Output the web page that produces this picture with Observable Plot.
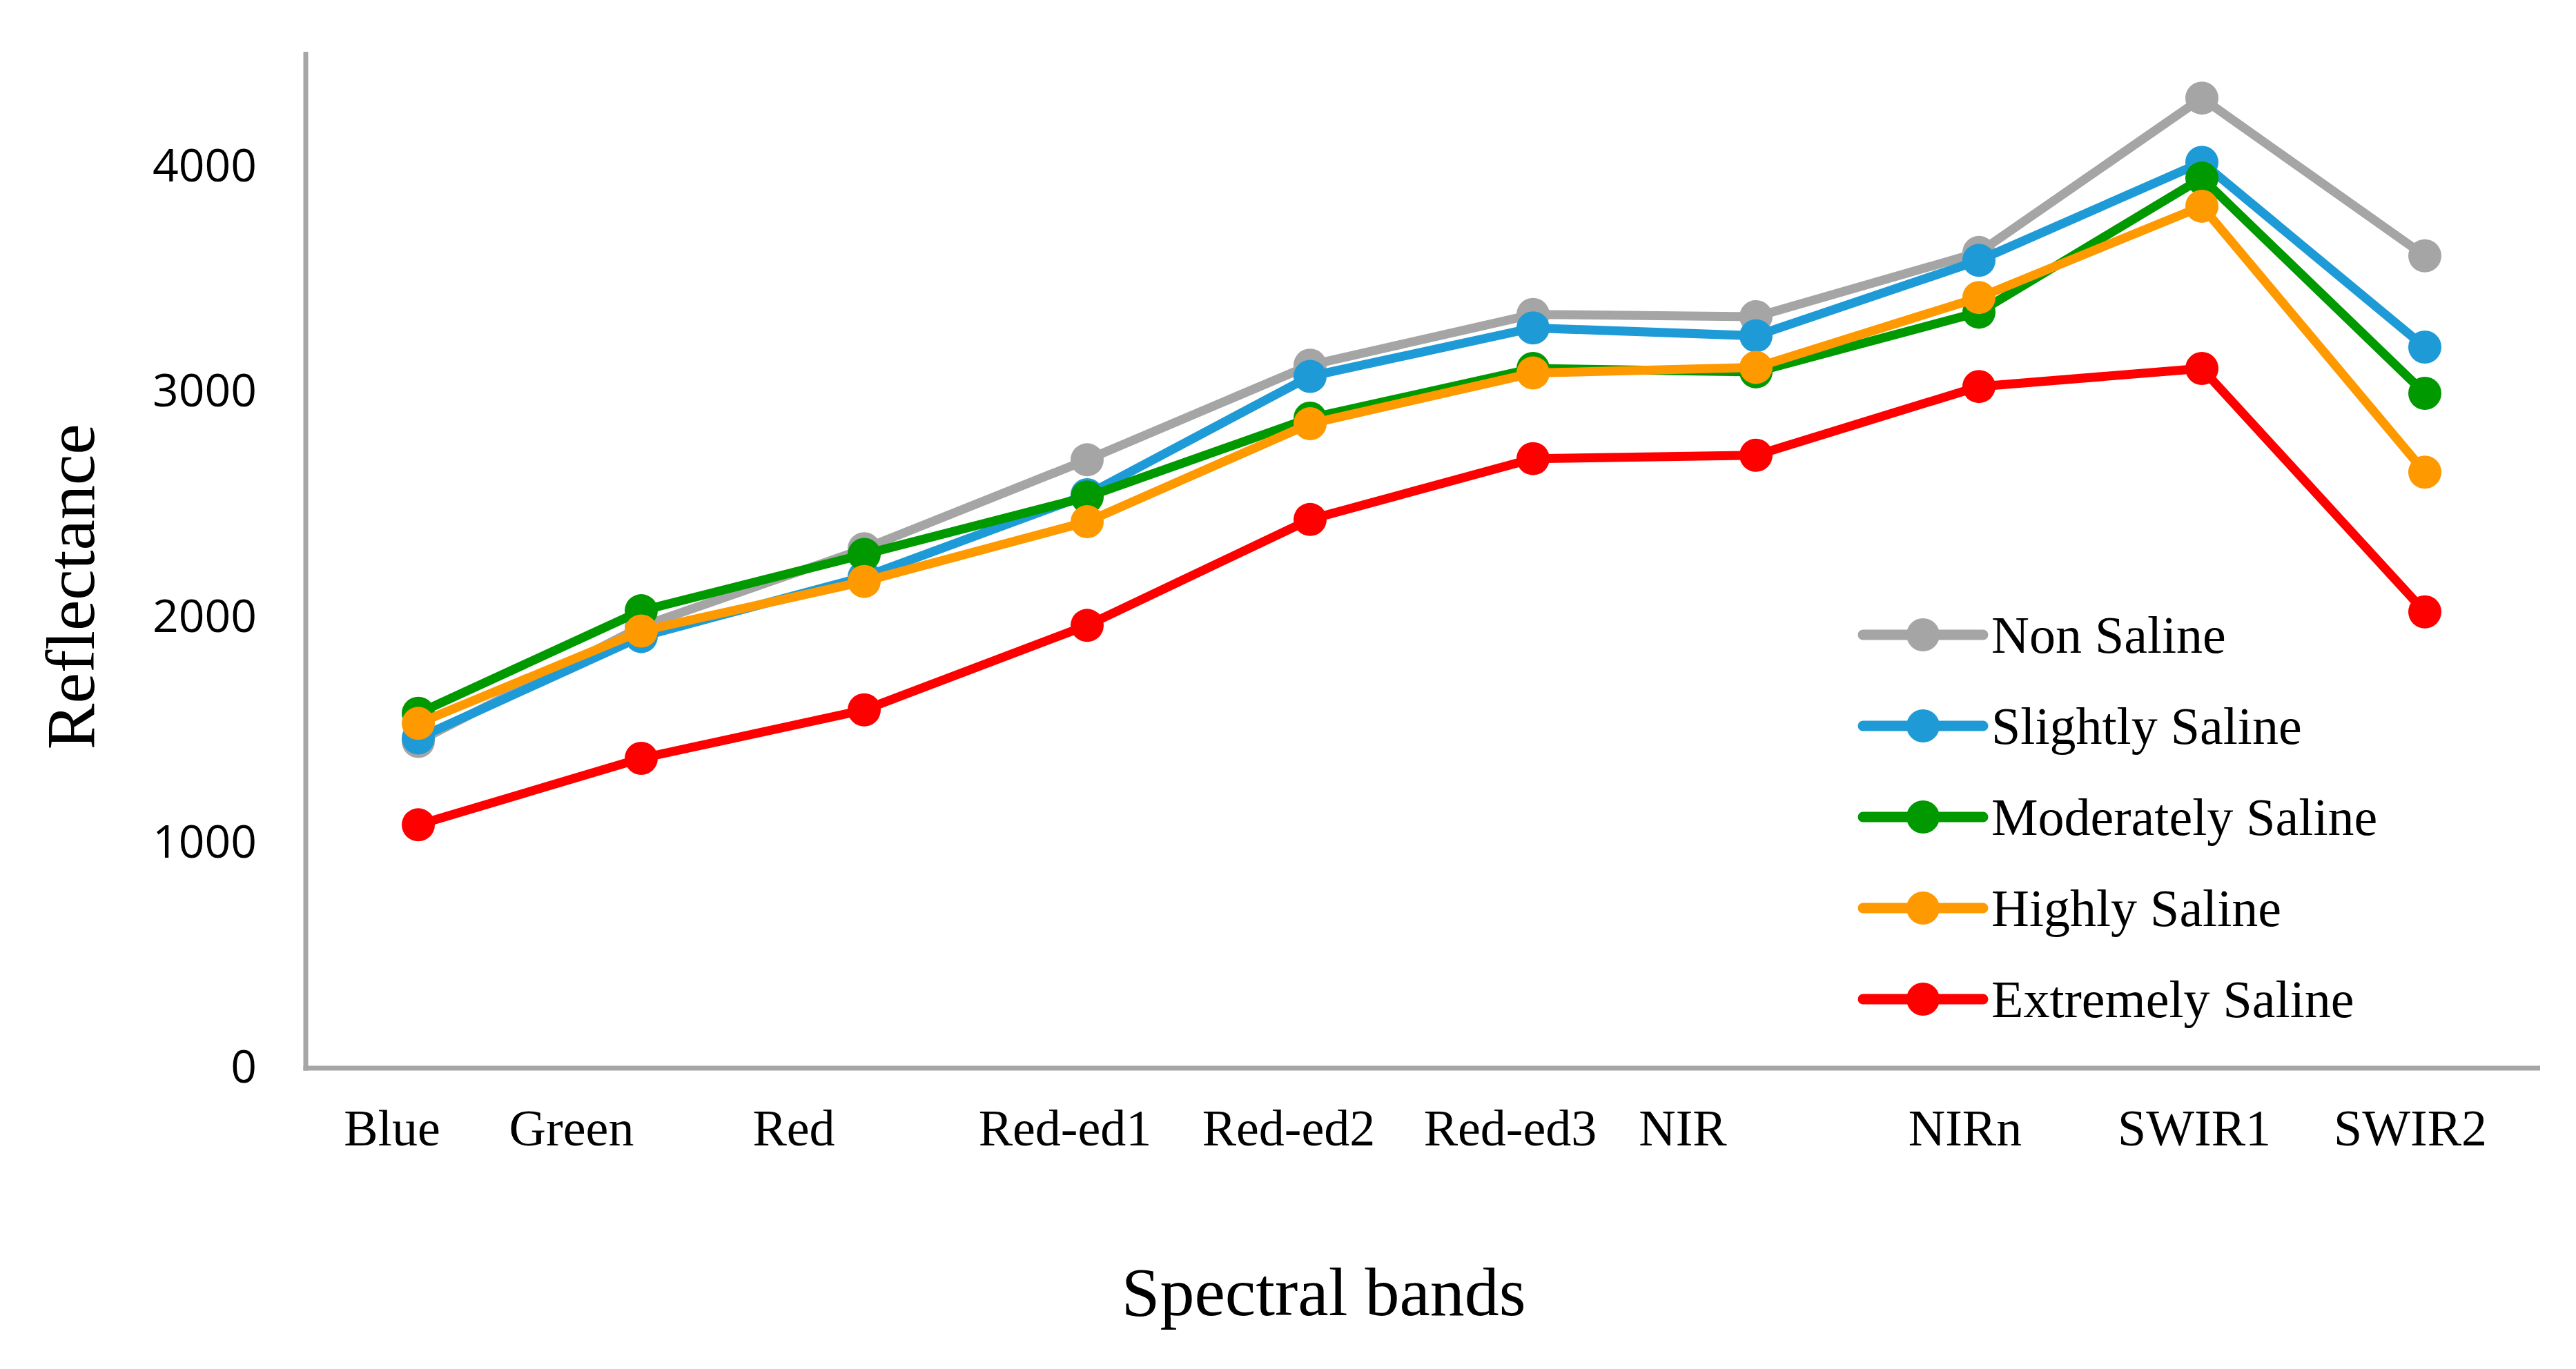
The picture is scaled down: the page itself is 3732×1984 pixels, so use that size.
<!DOCTYPE html>
<html>
<head>
<meta charset="utf-8">
<script src="https://cdn.jsdelivr.net/npm/d3@7"></script>
<script src="https://cdn.jsdelivr.net/npm/@observablehq/plot@0.6"></script>
<style>
  html, body { margin: 0; padding: 0; background: #ffffff; color: #000000; }
  #wrap { position: relative; width: 3732px; height: 1984px; }
  #legend { position: absolute; left: 2680px; top: 860px; }
</style>
</head>
<body>
<div id="wrap"><div id="chart"></div><div id="legend"></div></div>
<script>
// ---------- data ----------
const bands = ["Blue", "Green", "Red", "Red-ed1", "Red-ed2", "Red-ed3", "NIR", "NIRn", "SWIR1", "SWIR2"];
const seriesNames = ["Non Saline", "Slightly Saline", "Moderately Saline", "Highly Saline", "Extremely Saline"];
const nonSaline        = [1450, 1960, 2305, 2700, 3120, 3345, 3335, 3620, 4305, 3605];
const slightlySaline   = [1465, 1915, 2180, 2545, 3070, 3285, 3250, 3585, 4020, 3200];
const moderatelySaline = [1575, 2030, 2280, 2535, 2885, 3105, 3090, 3355, 3950, 2995];
const highlySaline     = [1530, 1940, 2160, 2425, 2860, 3085, 3110, 3420, 3825, 2645];
const extremelySaline  = [1080, 1375, 1590, 1965, 2435, 2705, 2720, 3025, 3105, 2025];
const yTicks = [0, 1000, 2000, 3000, 4000];
const yLabel = "Reflectance";
const xLabel = "Spectral bands";

// ---------- styles / layout ----------
const seriesValues = [nonSaline, slightlySaline, moderatelySaline, highlySaline, extremelySaline];
const colors = ["#A5A5A5", "#1E9BD7", "#009900", "#FF9900", "#FF0000"];
const tickShift = [-38, -101, -102, -32, -31, -33, -106, -20, -11, -21];
const serif = "'Liberation Serif', 'Times New Roman', serif";
const sans = "'Open Sans', sans-serif";
const axisColor = "#A6A6A6";

const W = 3732, H = 1984;
const mL = 442.5, mR = 56, mT = 78, mB = 436.5;

const rows = seriesNames.map((name, s) =>
  bands.map((b, i) => ({series: name, band: b, value: seriesValues[s][i]}))
);

const seriesMarks = rows.flatMap((data, s) => [
  Plot.line(data, {x: "band", y: "value", stroke: colors[s], strokeWidth: 13,
    strokeLinejoin: "round", strokeLinecap: "round"}),
  Plot.dot(data, {x: "band", y: "value", r: 24, fill: colors[s], stroke: "none"})
]);

const xTickMarks = bands.map((b, i) =>
  Plot.text([b], {x: d => d, text: d => d, frameAnchor: "bottom", dy: 111.5, dx: tickShift[i],
    fontSize: 74, fontFamily: serif, lineAnchor: "bottom", textAnchor: "middle", fill: "#000"})
);

const chart = Plot.plot({
  width: W, height: H,
  marginLeft: mL, marginRight: mR, marginTop: mT, marginBottom: mB,
  style: {background: "#ffffff", color: "#000000", overflow: "visible"},
  x: {type: "band", domain: bands, padding: 0, axis: null},
  y: {domain: [0, 4500]},
  marks: [
    Plot.axisY({ticks: yTicks, tickSize: 0, tickPadding: 71, fontSize: 66, fontFamily: sans,
      label: null, tickFormat: d => String(d), fill: "#000"}),
    Plot.frame({anchor: "left", stroke: axisColor, strokeWidth: 7}),
    Plot.frame({anchor: "bottom", stroke: axisColor, strokeWidth: 7}),
    ...xTickMarks,
    Plot.text([yLabel], {text: d => d, frameAnchor: "left", dx: -307.5, dy: 37, rotate: -90,
      fontSize: 100, fontFamily: serif, lineAnchor: "bottom", textAnchor: "middle", fill: "#000"}),
    Plot.text([xLabel], {text: d => d, frameAnchor: "bottom", dx: -142, dy: 358,
      fontSize: 100, fontFamily: serif, lineAnchor: "bottom", textAnchor: "middle", fill: "#000"}),
    ...seriesMarks
  ]
});
document.getElementById("chart").appendChild(chart);

// ---------- legend (overlay) ----------
const legendLeft = 2680, legendTop = 860;
const lg = d3.select("#legend").append("svg")
  .attr("width", 1000).attr("height", 660);
seriesNames.forEach((name, s) => {
  const y = 920 + s * 132 - legendTop;
  const g = lg.append("g");
  g.append("line").attr("x1", 2699 - legendLeft).attr("x2", 2873 - legendLeft)
    .attr("y1", y).attr("y2", y).attr("stroke", colors[s]).attr("stroke-width", 15)
    .attr("stroke-linecap", "round");
  g.append("circle").attr("cx", 2786 - legendLeft).attr("cy", y).attr("r", 24).attr("fill", colors[s]);
  g.append("text").attr("x", 2885 - legendLeft).attr("y", y + 26)
    .attr("font-family", serif).attr("font-size", 76).attr("fill", "#000").text(name);
});
</script>
</body>
</html>
